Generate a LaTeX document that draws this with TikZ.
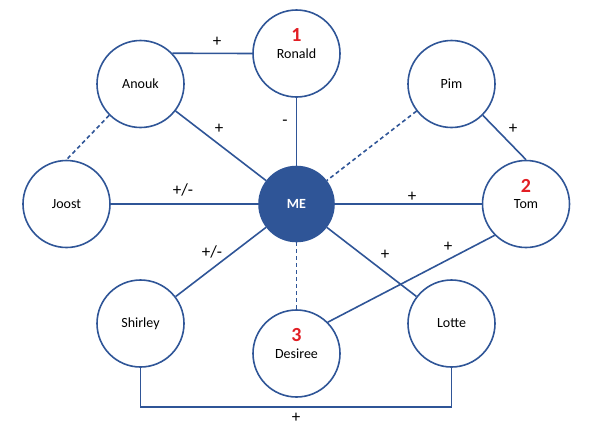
\documentclass[tikz,border=0pt]{standalone}
\usepackage{fontspec}
\setmainfont{Carlito}
\definecolor{nodeblue}{RGB}{47,85,151}
\definecolor{numred}{RGB}{226,30,36}
\begin{document}
\begin{tikzpicture}[x=1pt,y=-1pt,
  person/.style={circle,draw=nodeblue,line width=1.6pt,fill=white,minimum size=87pt,inner sep=0pt,font=\fontsize{14}{16}\selectfont},
  me/.style={circle,draw=nodeblue,fill=nodeblue,line width=1.6pt,minimum size=75pt,inner sep=0pt,text=white,font=\bfseries\fontsize{14}{16}\selectfont},
  link/.style={draw=nodeblue,line width=1.6pt},
  dlink/.style={link,dashed,dash pattern=on 4pt off 3pt},
  sign/.style={font=\fontsize{17}{19}\selectfont,inner sep=0pt},
  rank/.style={text=numred,font=\bfseries\fontsize{20}{22}\selectfont,inner sep=0pt}]
\useasboundingbox (0,0) rectangle (589,442);
% nodes
\node[me] (ME) at (296.5,204) {ME};
\node[person] (Ronald) at (296.5,53.5) {};
\node[person] (Anouk) at (140.5,84) {Anouk};
\node[person] (Pim) at (451.5,84) {Pim};
\node[person] (Joost) at (66.5,204) {Joost};
\node[person] (Tom) at (526,204) {};
\node[person] (Shirley) at (140.5,323.5) {Shirley};
\node[person] (Desiree) at (296.5,353.5) {};
\node[person] (Lotte) at (451.5,323.5) {Lotte};
% names with ranks
\node[font=\fontsize{14}{16}\selectfont] (RonaldN) at (296.5,53.5) {Ronald};
\node[rank] (R1) at (296.5,35) {1};
\node[font=\fontsize{14}{16}\selectfont] (TomN) at (526,204) {Tom};
\node[rank] (R2) at (526,185.5) {2};
\node[font=\fontsize{14}{16}\selectfont] (DesireeN) at (296.5,354) {Desiree};
\node[rank] (R3) at (296.5,335.5) {3};
% connectors
\draw[link] (Anouk.44.5) -- (Ronald.west);
\draw[link] (Anouk) -- (ME);
\draw[dlink] (Anouk.225) -- (Joost.north);
\draw[link] (Ronald) -- (ME);
\draw[link] (Joost) -- (ME);
\draw[dlink] (Pim) -- (ME);
\draw[link] (Pim.-45) -- (Tom.north);
\draw[link] (ME) -- (Tom);
\draw[link] (ME) -- (Shirley);
\draw[dlink] (ME) -- (Desiree);
\draw[link] (ME) -- (Lotte);
\draw[link] (Tom.225) -- (Desiree.45);
\coordinate (B) at (296.5,406.7);
\draw[link] (Shirley.south) |- (B) -| (Lotte.south);
% signs
\node[sign] (s1) at (217,42) {+};
\node[sign] (s2) at (219,129) {+};
\node[sign] (s3) at (285,123) {-};
\node[sign] (s4) at (183,190) {+/-};
\node[sign] (s5) at (412,197) {+};
\node[sign] (s6) at (513,129) {+};
\node[sign] (s7) at (212,252) {+/-};
\node[sign] (s8) at (385,255) {+};
\node[sign] (s9) at (448,247) {+};
\node[sign] (s10) at (296,418) {+};
\end{tikzpicture}
\end{document}
